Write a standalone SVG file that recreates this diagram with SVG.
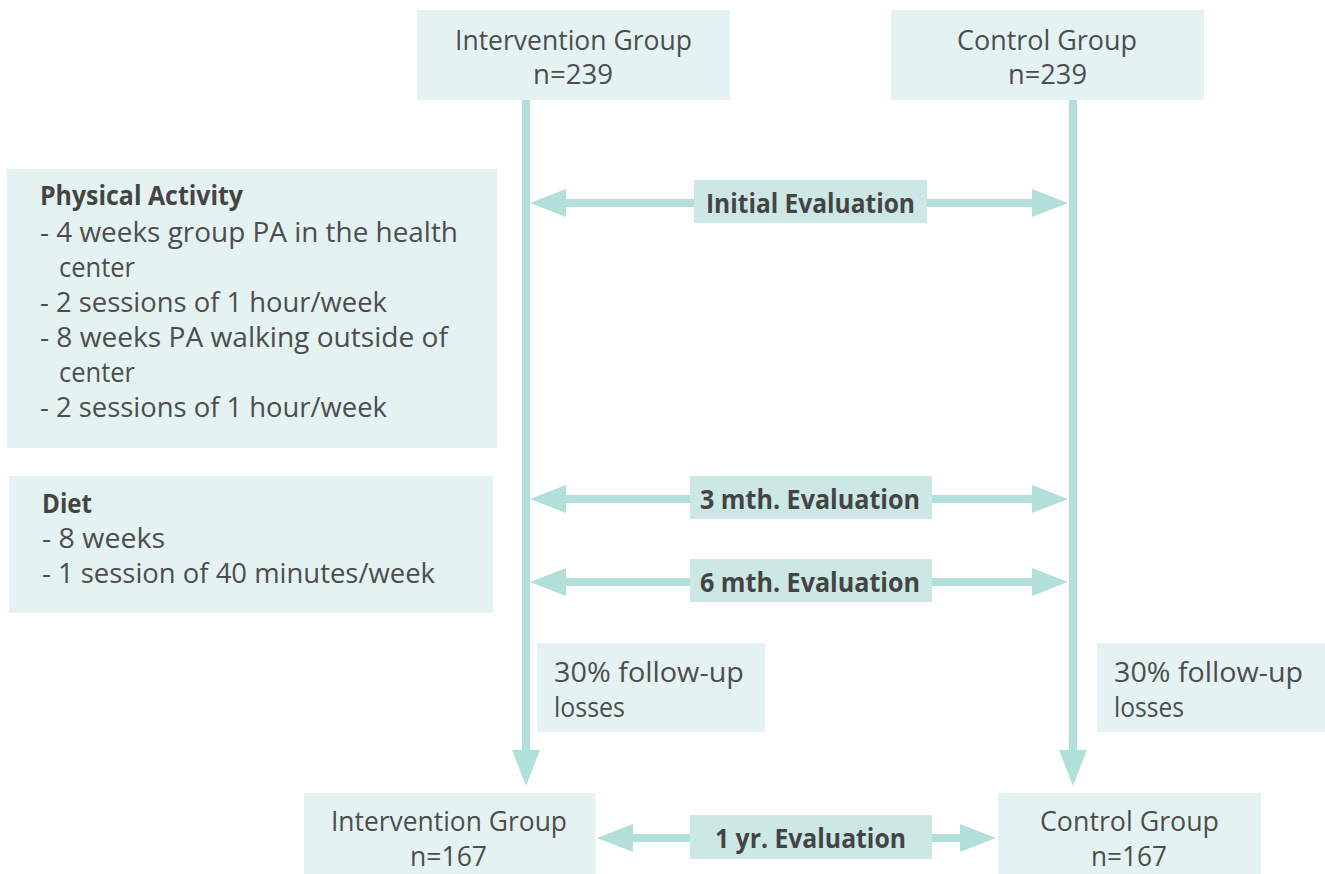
<svg xmlns="http://www.w3.org/2000/svg" width="1325" height="874" viewBox="0 0 1325 874">
<style>
.box{fill:#e4f3f2}
.lbl{fill:#cce8e5}
.t{font-family:"Open Sans","Noto Sans",sans-serif;font-size:27px;fill:#4d4d4d}
.b{font-family:"Open Sans","Noto Sans",sans-serif;font-size:26px;font-weight:bold;fill:#444444}
.c{stroke:#b2dfda;stroke-width:8;fill:none}
</style>
<defs>
<marker id="ah" markerUnits="userSpaceOnUse" markerWidth="36" markerHeight="28" refX="0" refY="14" orient="auto-start-reverse" viewBox="0 0 36 28">
<path d="M0,0 L36,14 L0,28 Z" fill="#b2dfda"/>
</marker>
</defs>
<rect width="1325" height="874" fill="#ffffff"/>

<g id="connectors">
<line class="c" x1="526" y1="100" x2="526" y2="750" marker-end="url(#ah)"/>
<line class="c" x1="1073" y1="100" x2="1073" y2="750" marker-end="url(#ah)"/>
<line class="c" x1="566" y1="203" x2="1032" y2="203" marker-start="url(#ah)" marker-end="url(#ah)"/>
<line class="c" x1="566" y1="499" x2="1032" y2="499" marker-start="url(#ah)" marker-end="url(#ah)"/>
<line class="c" x1="566" y1="582" x2="1032" y2="582" marker-start="url(#ah)" marker-end="url(#ah)"/>
<line class="c" x1="633" y1="838" x2="960" y2="838" marker-start="url(#ah)" marker-end="url(#ah)"/>
</g>

<g id="intervention-top">
<rect class="box" x="417" y="10" width="313" height="90"/>
<text class="t" x="455" y="50" textLength="237" lengthAdjust="spacingAndGlyphs">Intervention Group</text>
<text class="t" x="533" y="84" textLength="80" lengthAdjust="spacingAndGlyphs">n=239</text>
</g>

<g id="control-top">
<rect class="box" x="891" y="10" width="313" height="90"/>
<text class="t" x="957" y="50" textLength="180" lengthAdjust="spacingAndGlyphs">Control Group</text>
<text class="t" x="1008" y="84" textLength="79" lengthAdjust="spacingAndGlyphs">n=239</text>
</g>

<g id="physical-activity">
<rect class="box" x="7" y="169" width="490" height="279"/>
<text class="b" x="40" y="205" textLength="203" lengthAdjust="spacingAndGlyphs">Physical Activity</text>
<text class="t" x="40" y="242" textLength="418" lengthAdjust="spacingAndGlyphs">- 4 weeks group PA in the health</text>
<text class="t" x="59" y="277" textLength="76" lengthAdjust="spacingAndGlyphs">center</text>
<text class="t" x="40" y="312" textLength="347" lengthAdjust="spacingAndGlyphs">- 2 sessions of 1 hour/week</text>
<text class="t" x="40" y="347" textLength="408" lengthAdjust="spacingAndGlyphs">- 8 weeks PA walking outside of</text>
<text class="t" x="59" y="382" textLength="76" lengthAdjust="spacingAndGlyphs">center</text>
<text class="t" x="40" y="417" textLength="347" lengthAdjust="spacingAndGlyphs">- 2 sessions of 1 hour/week</text>
</g>

<g id="diet">
<rect class="box" x="9" y="476" width="484" height="137"/>
<text class="b" x="42" y="513" textLength="50" lengthAdjust="spacingAndGlyphs">Diet</text>
<text class="t" x="42" y="548" textLength="123" lengthAdjust="spacingAndGlyphs">- 8 weeks</text>
<text class="t" x="42" y="583" textLength="393" lengthAdjust="spacingAndGlyphs">- 1 session of 40 minutes/week</text>
</g>

<g id="eval-initial">
<rect class="lbl" x="694" y="180" width="233" height="43"/>
<text class="b" x="706" y="213" textLength="209" lengthAdjust="spacingAndGlyphs">Initial Evaluation</text>
</g>

<g id="eval-3mth">
<rect class="lbl" x="690" y="476" width="242" height="43"/>
<text class="b" x="700" y="509" textLength="220" lengthAdjust="spacingAndGlyphs">3 mth. Evaluation</text>
</g>

<g id="eval-6mth">
<rect class="lbl" x="690" y="559" width="242" height="43"/>
<text class="b" x="700" y="592" textLength="220" lengthAdjust="spacingAndGlyphs">6 mth. Evaluation</text>
</g>

<g id="losses-intervention">
<rect class="box" x="537" y="643" width="228" height="89"/>
<text class="t" x="554" y="682" textLength="190" lengthAdjust="spacingAndGlyphs">30% follow-up</text>
<text class="t" x="554" y="717" textLength="71" lengthAdjust="spacingAndGlyphs">losses</text>
</g>

<g id="losses-control">
<rect class="box" x="1097" y="643" width="228" height="89"/>
<text class="t" x="1114" y="682" textLength="189" lengthAdjust="spacingAndGlyphs">30% follow-up</text>
<text class="t" x="1114" y="717" textLength="70" lengthAdjust="spacingAndGlyphs">losses</text>
</g>

<g id="intervention-bottom">
<rect class="box" x="304" y="793" width="291" height="81"/>
<text class="t" x="331" y="831" textLength="236" lengthAdjust="spacingAndGlyphs">Intervention Group</text>
<text class="t" x="410" y="866" textLength="77" lengthAdjust="spacingAndGlyphs">n=167</text>
</g>

<g id="eval-1yr">
<rect class="lbl" x="690" y="815" width="242" height="44"/>
<text class="b" x="715" y="848" textLength="191" lengthAdjust="spacingAndGlyphs">1 yr. Evaluation</text>
</g>

<g id="control-bottom">
<rect class="box" x="998" y="793" width="263" height="81"/>
<text class="t" x="1040" y="831" textLength="179" lengthAdjust="spacingAndGlyphs">Control Group</text>
<text class="t" x="1091" y="866" textLength="76" lengthAdjust="spacingAndGlyphs">n=167</text>
</g>
</svg>
